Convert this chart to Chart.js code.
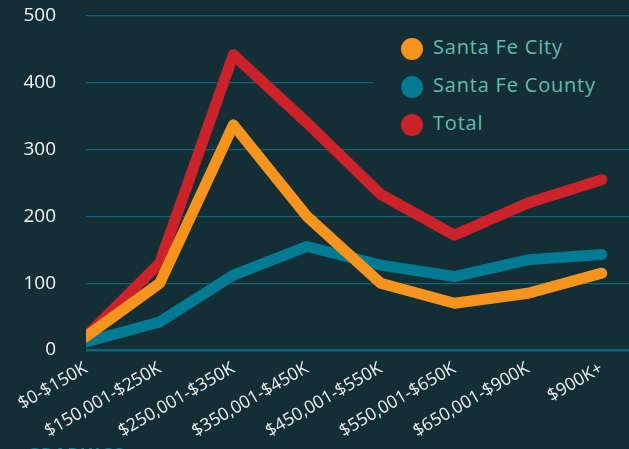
<!DOCTYPE html>
<html>
<head>
<meta charset="utf-8">
<script src="https://cdn.jsdelivr.net/npm/chart.js@4/dist/chart.umd.min.js"></script>
<style>
  html, body { margin: 0; padding: 0; background: #142e36; overflow: hidden; }
  #wrap { position: relative; width: 629px; height: 449px; overflow: hidden; }
  #legend {
    position: absolute; left: 373px; top: 20px; width: 256px; height: 126px;
    background: #142e36; font-family: "Open Sans", sans-serif; font-size: 20px; letter-spacing: 0.8px; color: #62bcae;
  }
  .item { position: absolute; left: 28px; height: 24px; line-height: 24px; white-space: nowrap; }
  .dot { display: inline-block; width: 22px; height: 22px; border-radius: 50%; vertical-align: middle; margin-right: 10px; }
  #foot {
    position: absolute; left: 27px; top: 444px; line-height: 20px; font-family: "Open Sans", sans-serif;
    font-weight: 700; font-size: 18px; letter-spacing: 1px; color: #0a8199;
  }
</style>
</head>
<body>
<div id="wrap">
  <canvas id="chart" width="629" height="449"></canvas>
  <div id="legend"></div>
  <div id="foot">GRAPHICS</div>
</div>
<script>
  const categories = ['$0-$150K', '$150,001-$250K', '$250,001-$350K', '$350,001-$450K',
    '$450,001-$550K', '$550,001-$650K', '$650,001-$900K', '$900K+'];
  const cityValues = [20, 100, 337, 200, 100, 70, 85, 115];
  const countyValues = [12, 42, 112, 155, 127, 110, 135, 143];
  const totalValues = [20, 130, 442, 340, 233, 172, 220, 255];
  const seriesNames = ['Santa Fe City', 'Santa Fe County', 'Total'];
  const seriesColors = ['#f7941e', '#007b93', '#cc2229'];
  const yTicks = [0, 100, 200, 300, 400, 500];

  const toPoints = vals => vals.map((v, i) => ({ x: i, y: v }));
  const allValues = [cityValues, countyValues, totalValues];

  const datasets = allValues.map((vals, i) => ({
    label: seriesNames[i],
    data: toPoints(vals),
    borderColor: seriesColors[i],
    backgroundColor: seriesColors[i],
    borderWidth: 11,
    pointRadius: 0,
    tension: 0,
    borderCapStyle: 'round',
    borderJoinStyle: 'round',
    fill: false
  }));

  new Chart(document.getElementById('chart'), {
    type: 'line',
    data: { datasets },
    options: {
      responsive: false,
      animation: false,
      layout: { padding: 0 },
      plugins: { legend: { display: false }, tooltip: { enabled: false } },
      scales: {
        x: {
          type: 'linear',
          min: 0,
          max: 7.37,
          border: { display: false },
          grid: { display: false },
          afterBuildTicks: s => { s.ticks = categories.map((c, i) => ({ value: i })); },
          afterFit: s => { s.height = 99; },
          ticks: {
            color: '#eef2f3',
            font: { family: 'Open Sans', size: 17.5 },
            minRotation: 30,
            maxRotation: 30,
            padding: 0,
            autoSkip: false,
            callback: v => categories[v]
          }
        },
        y: {
          min: 0,
          max: 500,
          border: { display: false },
          afterBuildTicks: s => { s.ticks = yTicks.map(v => ({ value: v })); },
          // the big tick padding would also push the plot down, so reset it here
          afterFit: s => { s.width = 86; s.paddingTop = 16; s.paddingBottom = 0; },
          grid: {
            color: '#0c6679',
            lineWidth: ctx => ctx.tick && ctx.tick.value === 0 ? 2.5 : 1.2,
            drawTicks: false
          },
          ticks: {
            color: '#f2f5f5',
            font: { family: 'Open Sans', size: 19 },
            padding: 30
          }
        }
      }
    }
  });

  // legend drawn as html over the plot, box hides the grid line behind it
  const legend = document.getElementById('legend');
  seriesNames.forEach((name, i) => {
    const item = document.createElement('div');
    item.className = 'item';
    item.style.top = (15 + i * 38) + 'px';
    item.innerHTML = '<span class="dot" style="background:' + seriesColors[i] + '"></span>' + name;
    legend.appendChild(item);
  });
</script>
</body>
</html>
